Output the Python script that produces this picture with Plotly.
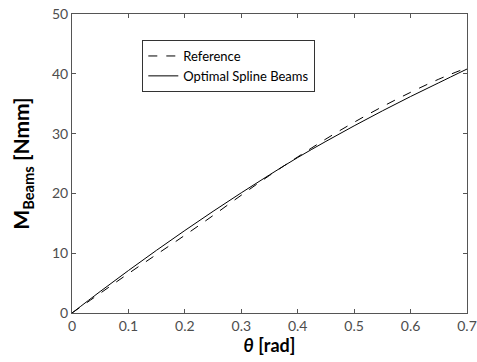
import plotly.graph_objects as go

theta = [0.0, 0.05, 0.1, 0.15, 0.2, 0.25, 0.3, 0.35, 0.4, 0.45, 0.5, 0.55, 0.6, 0.65, 0.7]
m_reference = [0.0, 3.3, 6.6, 9.8, 13.0, 16.3, 19.7, 23.0, 26.1, 29.1, 31.9, 34.5, 36.9, 39.1, 41.0]
m_spline = [0.0, 3.6, 7.1, 10.5, 13.8, 17.0, 20.1, 23.1, 26.0, 28.7, 31.3, 33.8, 36.2, 38.5, 40.8]

x_ticks = [0, 0.1, 0.2, 0.3, 0.4, 0.5, 0.6, 0.7]
x_labels = ["0", "0.1", "0.2", "0.3", "0.4", "0.5", "0.6", "0.7"]
y_ticks = [0, 10, 20, 30, 40, 50]

fig = go.Figure()
fig.add_trace(go.Scatter(x=theta, y=m_reference, mode="lines", name="Reference",
                         line=dict(color="black", width=1, dash="dash", shape="spline")))
fig.add_trace(go.Scatter(x=theta, y=m_spline, mode="lines", name="Optimal Spline Beams",
                         line=dict(color="black", width=1, shape="spline")))

axis_common = dict(showline=True, mirror="ticks", linecolor="#555555", linewidth=1,
                   ticks="inside", ticklen=4, tickcolor="#555555", showgrid=False,
                   zeroline=False, automargin=False, ticklabeloverflow="allow",
                   tickfont=dict(family="Lato", size=14, color="#4d4d4d"))

fig.update_xaxes(range=[0, 0.7], tickvals=x_ticks, ticktext=x_labels,
                 title=dict(text="<b><i>θ</i> [rad]</b>", font=dict(family="Lato", size=18, color="black"),
                            standoff=2),
                 **axis_common)
fig.update_yaxes(range=[0, 50], tickvals=y_ticks,
                 title=dict(text="<b>M<sub>Beams</sub> [Nmm]</b>", font=dict(family="Lato", size=21, color="black"),
                            standoff=16),
                 **axis_common)

fig.update_layout(
    width=477, height=362,
    margin=dict(l=72, r=10, t=14, b=49),
    plot_bgcolor="white", paper_bgcolor="white",
    legend=dict(x=0.178, y=0.913, xanchor="left", yanchor="top",
                bordercolor="#333333", borderwidth=1, bgcolor="white",
                font=dict(family="Lato", size=13, color="black"),
                tracegroupgap=0, itemwidth=30),
    showlegend=True,
)

# remove the browser's default 8px body margin so the figure fills the 477x362 window
fig.write_html("out.html",
               config={"displayModeBar": False},
               post_script="document.body.style.margin='0';document.body.style.overflow='hidden';")
